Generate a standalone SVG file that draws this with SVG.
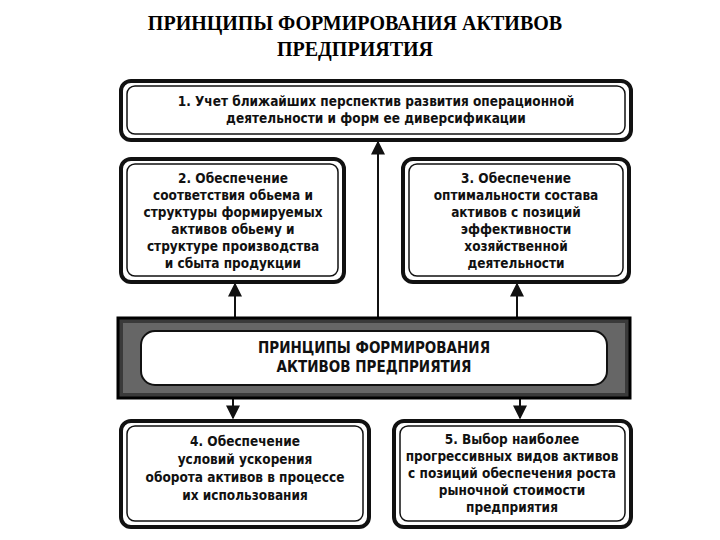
<svg xmlns="http://www.w3.org/2000/svg" width="720" height="540" viewBox="0 0 720 540">
<style>
.t{font-family:"DejaVu Sans Condensed","Liberation Sans Narrow","Liberation Sans",sans-serif;font-weight:bold;font-size:13.5px;text-anchor:middle;fill:#111}
.ttl{font-family:"Liberation Serif",serif;font-weight:bold;font-size:20px;text-anchor:middle;fill:#000}
.o{fill:#fff;stroke:#111;stroke-width:4}
.i{fill:#fff;stroke:#111;stroke-width:1.5}
.c{stroke:#111;stroke-width:2;fill:none}
</style>
<defs><marker id="a" viewBox="0 0 10 10" refX="9" refY="5" markerWidth="16" markerHeight="14" markerUnits="userSpaceOnUse" orient="auto"><path d="M0,0L10,5L0,10z" fill="#111"/></marker></defs>
<rect width="720" height="540" fill="#fff"/>
<text class="ttl" x="355" y="30">ПРИНЦИПЫ ФОРМИРОВАНИЯ АКТИВОВ</text>
<text class="ttl" x="355" y="56">ПРЕДПРИЯТИЯ</text>
<g id="connectors">
<line class="c" x1="378" y1="318" x2="378" y2="142" marker-end="url(#a)"/>
<line class="c" x1="235" y1="318" x2="235" y2="284" marker-end="url(#a)"/>
<line class="c" x1="517" y1="318" x2="517" y2="284" marker-end="url(#a)"/>
<line class="c" x1="233" y1="398" x2="233" y2="418" marker-end="url(#a)"/>
<line class="c" x1="520" y1="398" x2="520" y2="418" marker-end="url(#a)"/>
</g>
<g id="n1"><rect class="o" x="121" y="81" width="510" height="59" rx="10"/><rect class="i" x="127" y="86" width="498" height="48" rx="8"/>
<text class="t" x="376" y="106">1. Учет ближайших перспектив развития операционной</text>
<text class="t" x="376" y="123">деятельности и форм ее диверсификации</text></g>
<g id="n2"><rect class="o" x="121" y="159" width="223" height="123" rx="10"/><rect class="i" x="127" y="164" width="211" height="112" rx="8"/>
<text class="t" x="233" y="183">2. Обеспечение</text>
<text class="t" x="233" y="200">соответствия обьема и</text>
<text class="t" x="233" y="217">структуры  формируемых</text>
<text class="t" x="233" y="234">активов обьему и</text>
<text class="t" x="233" y="251">структуре производства</text>
<text class="t" x="233" y="268">и сбыта продукции</text></g>
<g id="n3"><rect class="o" x="403" y="159" width="226" height="123" rx="10"/><rect class="i" x="409" y="164" width="214" height="112" rx="8"/>
<text class="t" x="516" y="183">3. Обеспечение</text>
<text class="t" x="516" y="200">оптимальности состава</text>
<text class="t" x="516" y="217">активов с позиций</text>
<text class="t" x="516" y="234">эффективности</text>
<text class="t" x="516" y="251">хозяйственной</text>
<text class="t" x="516" y="268">деятельности</text></g>
<g id="center"><rect x="118" y="318" width="512" height="80" fill="#3a3a3a" stroke="#000" stroke-width="3"/><rect x="123" y="323" width="502" height="70" fill="#666"/>
<rect x="141" y="331" width="466" height="54" rx="14" fill="#fff" stroke="#111" stroke-width="2"/>
<text class="t" x="374" y="353" style="font-size:15px">ПРИНЦИПЫ ФОРМИРОВАНИЯ</text>
<text class="t" x="374" y="372" style="font-size:15px">АКТИВОВ ПРЕДПРИЯТИЯ</text></g>
<g id="n4"><rect class="o" x="121" y="421" width="248" height="106" rx="10"/><rect class="i" x="127" y="426" width="236" height="95" rx="8"/>
<text class="t" x="245" y="446">4. Обеспечение</text>
<text class="t" x="245" y="464">условий ускорения</text>
<text class="t" x="245" y="482">оборота активов в процессе</text>
<text class="t" x="245" y="500">их использования</text></g>
<g id="n5"><rect class="o" x="394" y="421" width="237" height="106" rx="10"/><rect class="i" x="400" y="426" width="225" height="95" rx="8"/>
<text class="t" x="512" y="444">5. Выбор наиболее</text>
<text class="t" x="512" y="461">прогрессивных видов активов</text>
<text class="t" x="512" y="478">с позиций обеспечения роста</text>
<text class="t" x="512" y="495">рыночной стоимости</text>
<text class="t" x="512" y="512">предприятия</text></g>
</svg>
